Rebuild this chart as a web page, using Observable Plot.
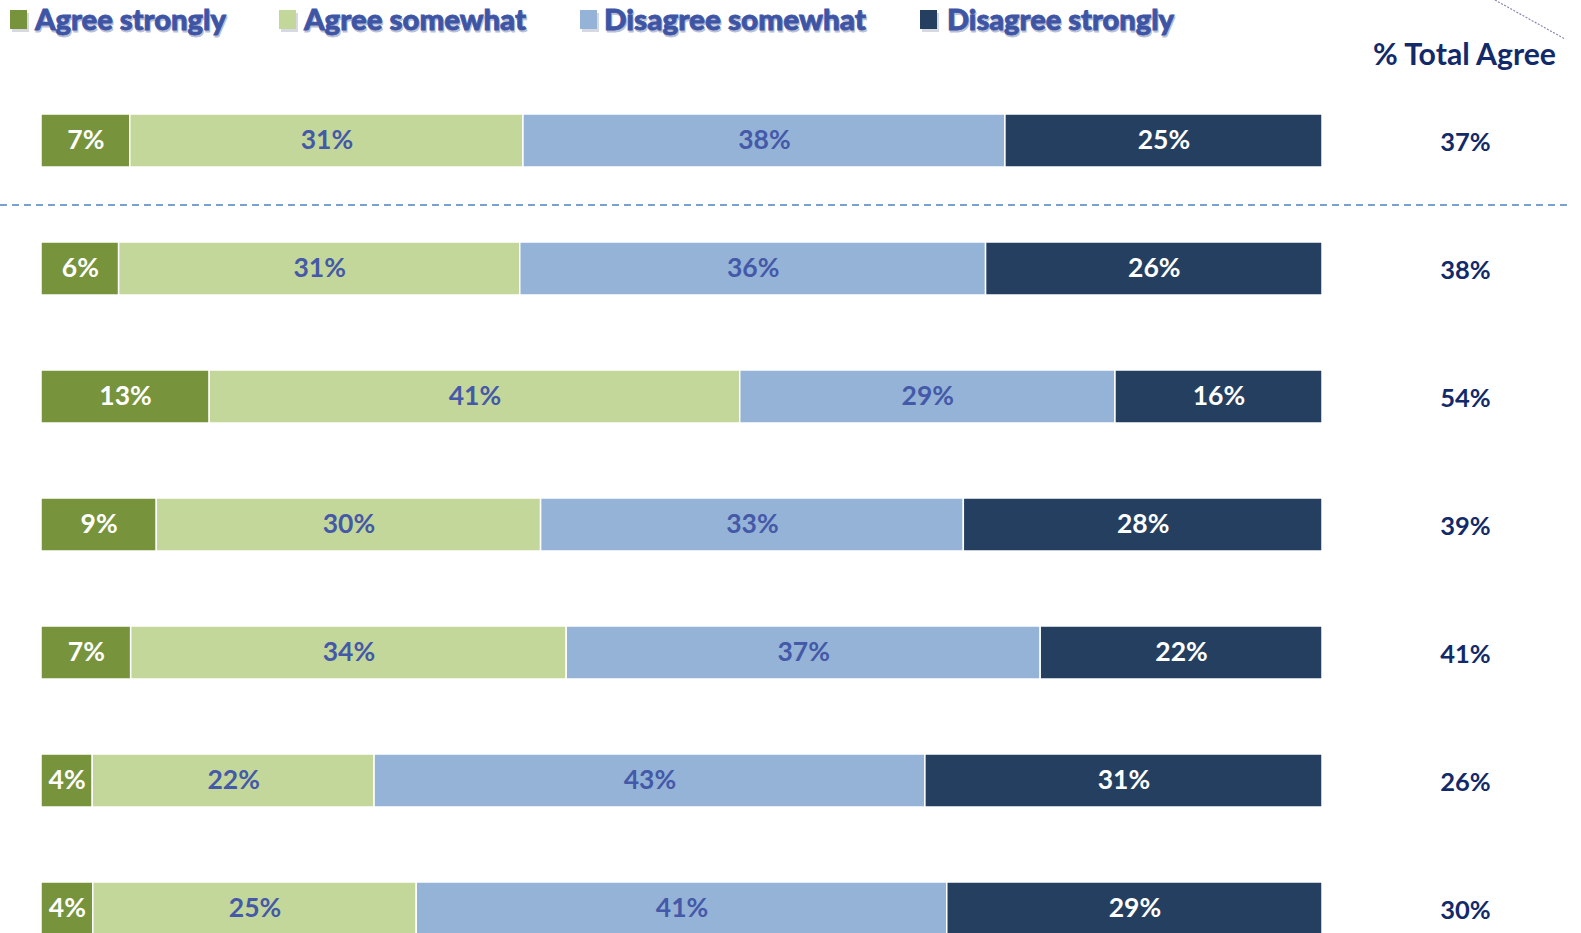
<!DOCTYPE html>
<html>
<head>
<meta charset="utf-8">
<script src="https://cdn.jsdelivr.net/npm/d3@7"></script>
<script src="https://cdn.jsdelivr.net/npm/@observablehq/plot@0.6"></script>
<style>
  html, body { margin: 0; padding: 0; background: #fff; overflow: hidden; }
  #wrap { position: relative; width: 1581px; height: 933px; }
  #chart { position: absolute; left: 0; top: 0; }
  #overlay { position: absolute; left: 0; top: 0; pointer-events: none; }
</style>
</head>
<body>
<div id="wrap">
  <div id="chart"></div>
  <svg id="overlay" width="1581" height="90"></svg>
</div>
<script>
// ---- data ----
const rows = ["Statement 1", "Statement 2", "Statement 3", "Statement 4", "Statement 5", "Statement 6", "Statement 7"];
const categories = ["Agree strongly", "Agree somewhat", "Disagree somewhat", "Disagree strongly"];
const agreeStrongly    = [7, 6, 13, 9, 7, 4, 4];
const agreeSomewhat    = [31, 31, 41, 30, 34, 22, 25];
const disagreeSomewhat = [38, 36, 29, 33, 37, 43, 41];
const disagreeStrongly = [25, 26, 16, 28, 22, 31, 29];
const totalAgree       = [37, 38, 54, 39, 41, 26, 30];
const colors = ["#77933C", "#C4D79B", "#95B3D7", "#253F60"];

const series = [agreeStrongly, agreeSomewhat, disagreeSomewhat, disagreeStrongly];
const data = [];
rows.forEach((r, i) => categories.forEach((c, j) => data.push({row: r, category: c, value: series[j][i]})));
const totals = rows.map((r, i) => ({row: r, total: totalAgree[i]}));

const darkCats = ["Agree strongly", "Disagree strongly"];
const font = "Lato, 'Open Sans', sans-serif";

const stackOpts = (extra) => Plot.stackX({
  x: "value", y: "row", z: "category", order: categories, offset: "normalize", ...extra
});

const chart = Plot.plot({
  width: 1581,
  height: 933,
  marginLeft: 41,
  marginRight: 259,
  marginTop: 0,
  marginBottom: 0,
  style: {fontFamily: font, background: "white"},
  x: {domain: [0, 1], axis: null},
  y: {domain: rows, range: [76, 972], paddingInner: 0.586, paddingOuter: 0.293, axis: null},
  color: {domain: categories, range: colors},
  marks: [
    Plot.barX(data, stackOpts({fill: "category", stroke: "white", strokeWidth: 1.5})),
    Plot.textX(data, stackOpts({
      text: d => darkCats.includes(d.category) ? d.value + "%" : "",
      fill: "white", fontSize: 26.5, fontWeight: 700
    })),
    Plot.textX(data, stackOpts({
      text: d => darkCats.includes(d.category) ? "" : d.value + "%",
      fill: "#4459A8", fontSize: 26.5, fontWeight: 700
    })),
    Plot.text(totals, {
      y: "row", text: d => d.total + "%", frameAnchor: "right", textAnchor: "middle",
      dx: 143, dy: 2, fill: "#12296A", fontSize: 25.5, fontWeight: 700
    }),
    Plot.ruleY([rows[0]], {
      dy: 64, stroke: "#4F81BD", strokeWidth: 1.5, strokeDasharray: "7,5",
      insetLeft: -41, insetRight: -249
    })
  ]
});
chart.style.overflow = "hidden";
document.getElementById("chart").append(chart);

// ---- legend & header overlay ----
const ov = d3.select("#overlay");
const legendItems = [
  {sq: 10, tx: 35, w: 191},
  {sq: 279, tx: 304, w: 222},
  {sq: 580, tx: 604, w: 262},
  {sq: 920, tx: 947, w: 227}
];
categories.forEach((c, i) => {
  const it = legendItems[i];
  ov.append("rect").attr("x", it.sq + 2).attr("y", 13).attr("width", 17).attr("height", 19)
    .attr("fill", "#d6d9e2");
  ov.append("rect").attr("x", it.sq).attr("y", 10).attr("width", 17).attr("height", 19)
    .attr("fill", colors[i]);
  ov.append("text").attr("x", it.tx + 1).attr("y", 31.5)
    .attr("textLength", it.w).attr("lengthAdjust", "spacingAndGlyphs")
    .attr("font-family", font).attr("font-weight", 900).attr("font-size", 28)
    .attr("fill", "#b9bfd6").attr("stroke", "#b9bfd6").attr("stroke-width", 0.8).text(c);
  ov.append("text").attr("x", it.tx).attr("y", 30)
    .attr("textLength", it.w).attr("lengthAdjust", "spacingAndGlyphs")
    .attr("font-family", font).attr("font-weight", 900).attr("font-size", 28)
    .attr("fill", "#3E55A5").attr("stroke", "#3E55A5").attr("stroke-width", 0.8).text(c);
});
ov.append("text").attr("x", 1373).attr("y", 65)
  .attr("textLength", 183).attr("lengthAdjust", "spacingAndGlyphs")
  .attr("font-family", font).attr("font-weight", 700).attr("font-size", 30)
  .attr("fill", "#12296A").text("% Total Agree");
ov.append("line").attr("x1", 1495).attr("y1", 0).attr("x2", 1565).attr("y2", 39)
  .attr("stroke", "#8a88b0").attr("stroke-width", 1.2).attr("stroke-dasharray", "2,1.5");
</script>
</body>
</html>
